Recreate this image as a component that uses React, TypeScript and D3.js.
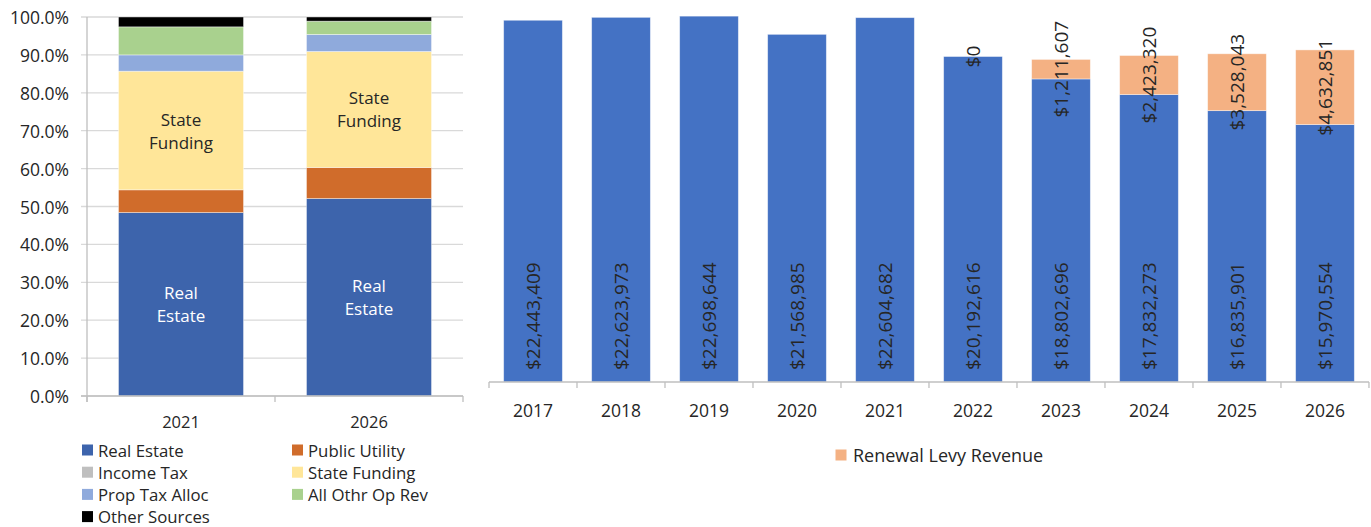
import React from "react";
import * as d3 from "d3";

// ---------- Left chart data (percent of revenue) ----------
const leftCategories = ["2021", "2026"];
const leftSeriesNames = [
  "Real Estate",
  "Public Utility",
  "Income Tax",
  "State Funding",
  "Prop Tax Alloc",
  "All Othr Op Rev",
  "Other Sources",
];
const realEstate = [48.4, 52.1];
const publicUtility = [6.0, 8.2];
const incomeTax = [0, 0];
const stateFunding = [31.3, 30.6];
const propTaxAlloc = [4.3, 4.5];
const allOthrOpRev = [7.4, 3.5];
const otherSources = [2.6, 1.1];
const leftTicks = [0, 10, 20, 30, 40, 50, 60, 70, 80, 90, 100];

// ---------- Right chart data ----------
const years = ["2017", "2018", "2019", "2020", "2021", "2022", "2023", "2024", "2025", "2026"];
const baseRevenue = [22443409, 22623973, 22698644, 21568985, 22604682, 20192616, 18802696, 17832273, 16835901, 15970554];
const renewalLevy: (number | null)[] = [null, null, null, null, null, 0, 1211607, 2423320, 3528043, 4632851];

const leftColors = ["#3D64AC", "#D06C2B", "#BFBFBF", "#FFE699", "#8FAADC", "#A9D18E", "#000000"];
const blue = "#4472C4";
const orange = "#F4B183";
const textColor = "#262626";
const font = "'Open Sans', 'Noto Sans', sans-serif";

const fmt = (v: number) => "$" + d3.format(",")(v);

export default function App() {
  // Left chart scales
  const lx = d3.scaleBand<string>().domain(leftCategories).range([87, 463]).paddingInner(0.335).paddingOuter(0.1675);
  const ly = d3.scaleLinear().domain([0, 100]).range([396, 17]);
  const leftRows = leftCategories.map((c, i) => ({
    cat: c,
    vals: [realEstate[i], publicUtility[i], incomeTax[i], stateFunding[i], propTaxAlloc[i], allOthrOpRev[i], otherSources[i]],
  }));
  const stackData = leftRows.map((r) => {
    const o: any = { cat: r.cat };
    leftSeriesNames.forEach((n, k) => (o[n] = r.vals[k]));
    return o;
  });
  const stacked = d3.stack<any>().keys(leftSeriesNames)(stackData);

  // Right chart scales
  const rx = d3.scaleBand<string>().domain(years).range([489, 1369]).paddingInner(0.333).paddingOuter(0.1667);
  const ry = d3.scaleLinear().domain([0, 24000000]).range([382, 382 - 24000000 * 1.6118e-5]);

  const legendItems = leftSeriesNames.map((n, i) => ({
    name: n,
    color: leftColors[i],
    col: i % 2,
    row: Math.floor(i / 2),
  }));

  return (
    <svg
      width={1371}
      height={527}
      style={{ position: "absolute", left: 0, top: 0, background: "#fff" }}
      fontFamily={font}
    >
      {/* ================= LEFT CHART ================= */}
      <g>
        {leftTicks.map((t) => (
          <g key={t}>
            <line x1={81} x2={463} y1={ly(t)} y2={ly(t)} stroke="#D9D9D9" strokeWidth={1.3} />
            <text x={69} y={ly(t)} textAnchor="end" dominantBaseline="central" fontSize={17.5} fill={textColor}>
              {t.toFixed(1) + "%"}
            </text>
          </g>
        ))}
        {stacked.map((s, k) => (
          <g key={s.key} fill={leftColors[k]}>
            {s.map((d, i) => {
              const h = ly(d[0]) - ly(d[1]);
              if (h <= 0) return null;
              return (
                <rect
                  key={i}
                  x={lx(leftCategories[i])}
                  y={ly(d[1])}
                  width={lx.bandwidth()}
                  height={h}
                  stroke="#fff"
                  strokeOpacity={0.5}
                  strokeWidth={0.8}
                />
              );
            })}
          </g>
        ))}
        {/* in-bar labels */}
        {leftCategories.map((c, i) => {
          const cx = (lx(c) as number) + lx.bandwidth() / 2;
          const re = stacked[0][i];
          const sf = stacked[3][i];
          const reMid = (ly(re[0]) + ly(re[1])) / 2;
          const sfMid = (ly(sf[0]) + ly(sf[1])) / 2;
          return (
            <g key={c} fontSize={17} textAnchor="middle">
              <text x={cx} y={sfMid - 11.5} dominantBaseline="central" fill={textColor}>State</text>
              <text x={cx} y={sfMid + 11.5} dominantBaseline="central" fill={textColor}>Funding</text>
              <text x={cx} y={reMid - 11.5} dominantBaseline="central" fill="#fff">Real</text>
              <text x={cx} y={reMid + 11.5} dominantBaseline="central" fill="#fff">Estate</text>
            </g>
          );
        })}
        {/* axes */}
        <line x1={87} x2={87} y1={17} y2={402} stroke="#BFBFBF" strokeWidth={1.3} />
        <line x1={81} x2={463} y1={396} y2={396} stroke="#BFBFBF" strokeWidth={1.3} />
        {[87, 275, 463].map((x) => (
          <line key={x} x1={x} x2={x} y1={396} y2={402} stroke="#BFBFBF" strokeWidth={1.3} />
        ))}
        {leftCategories.map((c) => (
          <text
            key={c}
            x={(lx(c) as number) + lx.bandwidth() / 2}
            y={421}
            textAnchor="middle"
            dominantBaseline="central"
            fontSize={16.5}
            fill={textColor}
          >
            {c}
          </text>
        ))}
        {/* legend */}
        {legendItems.map((it) => {
          const sx = it.col === 0 ? 82 : 292;
          const cy = 450 + it.row * 22.2;
          return (
            <g key={it.name}>
              <rect x={sx} y={cy - 5.5} width={11} height={11} fill={it.color} />
              <text x={sx + 16} y={cy} dominantBaseline="central" fontSize={16.8} fill={textColor}>
                {it.name}
              </text>
            </g>
          );
        })}
      </g>

      {/* ================= RIGHT CHART ================= */}
      <g>
        {years.map((yr, i) => {
          const x = rx(yr) as number;
          const w = rx.bandwidth();
          const b = baseRevenue[i];
          const r = renewalLevy[i];
          return (
            <g key={yr}>
              <rect x={x} y={ry(b)} width={w} height={ry(0) - ry(b)} fill={blue} stroke="#fff" strokeOpacity={0.5} strokeWidth={0.8} />
              {r !== null && r > 0 && (
                <rect x={x} y={ry(b + r)} width={w} height={ry(b) - ry(b + r)} fill={orange} stroke="#fff" strokeOpacity={0.5} strokeWidth={0.8} />
              )}
            </g>
          );
        })}
        {/* axis */}
        <line x1={489} x2={1369} y1={382} y2={382} stroke="#BFBFBF" strokeWidth={1.3} />
        {years.concat(["end"]).map((yr, i) => {
          const x = 489 + i * rx.step();
          return <line key={"t" + i} x1={x} x2={x} y1={382} y2={388} stroke="#BFBFBF" strokeWidth={1.3} />;
        })}
        {years.map((yr) => (
          <text
            key={"l" + yr}
            x={(rx(yr) as number) + rx.bandwidth() / 2}
            y={410}
            textAnchor="middle"
            dominantBaseline="central"
            fontSize={17.5}
            fill={textColor}
          >
            {yr}
          </text>
        ))}
        {/* value labels */}
        {years.map((yr, i) => {
          const cx = (rx(yr) as number) + rx.bandwidth() / 2;
          const b = baseRevenue[i];
          const r = renewalLevy[i];
          return (
            <g key={"v" + yr} fontSize={19} fill={textColor}>
              <text transform={`translate(${cx},${ry(0) - 12}) rotate(-90)`} textAnchor="start" dominantBaseline="central">
                {fmt(b)}
              </text>
              {r !== null && (
                <text
                  transform={`translate(${cx},${(ry(b) + ry(b + r)) / 2}) rotate(-90)`}
                  textAnchor="middle"
                  dominantBaseline="central"
                >
                  {fmt(r)}
                </text>
              )}
            </g>
          );
        })}
        {/* legend */}
        <rect x={835.5} y={449.5} width={11} height={11} fill={orange} />
        <text x={853} y={455} dominantBaseline="central" fontSize={18} fill={textColor}>
          Renewal Levy Revenue
        </text>
      </g>
    </svg>
  );
}
